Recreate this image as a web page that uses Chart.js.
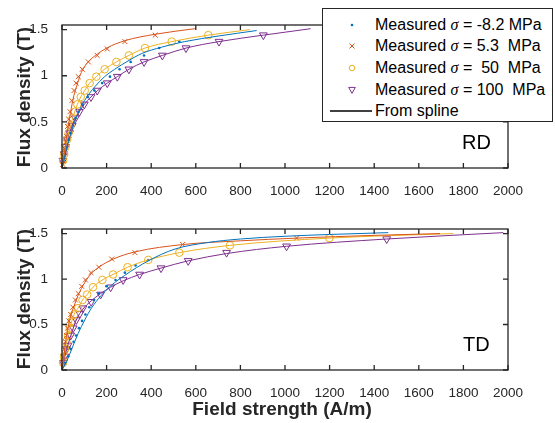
<!DOCTYPE html>
<html><head><meta charset="utf-8">
<script src="https://cdn.jsdelivr.net/npm/chart.js@4"></script>
<style>
body{margin:0;width:555px;height:423px;position:relative;background:#fff;overflow:hidden;font-family:'Liberation Sans',Arial,sans-serif;color:#262626}
canvas{position:absolute;left:0}
#c1{top:0}
#c2{top:200px}
.ytitle{position:absolute;width:200px;left:-76px;height:22px;line-height:22px;text-align:center;font-weight:bold;font-size:19px;transform:rotate(-90deg);white-space:nowrap}
.xtitle{position:absolute;width:300px;left:132px;top:398px;height:22px;line-height:22px;text-align:center;font-weight:bold;font-size:19px;white-space:nowrap}
.tag{position:absolute;font-size:20px;line-height:22px;color:#000;white-space:nowrap}
#legend{position:absolute;left:322px;top:8px;width:231px;height:114px;border:1px solid #262626;background:#fff;box-sizing:border-box}
.lrow{position:absolute;left:52px;height:20px;line-height:20px;font-size:16px;color:#000;white-space:pre}
.lrow i{font-family:'Liberation Serif','DejaVu Serif',serif;font-style:italic}
.lmark{position:absolute}
</style>
</head><body>
<canvas id="c1" width="555" height="200"></canvas>
<canvas id="c2" width="555" height="223"></canvas>
<div class="ytitle" style="top:86px">Flux density (T)</div>
<div class="ytitle" style="top:288px">Flux density (T)</div>
<div class="xtitle">Field strength (A/m)</div>
<div class="tag" style="left:462px;top:131px">RD</div>
<div class="tag" style="left:463px;top:333px">TD</div>
<div id="legend"></div>
<script>
// ---- tick labels ----
const xTicks = [0,200,400,600,800,1000,1200,1400,1600,1800,2000];
const yTicks = [0,0.5,1,1.5];
// ---- series ----
const seriesNames = ['-8.2 MPa','5.3  MPa',' 50  MPa','100  MPa'];
const seriesColors = ['#0072BD','#D95319','#EDB120','#7E2F8E'];
const seriesMarkers = ['dot','crossRot','circle','triangleDown'];
const splineLabel = 'From spline';

// RD measured (H in A/m, B in T)
const rdNeg8H = [6,13,21,29,38,48,60,74,92,115,145,180,215,258,308,368,436,526];
const rdNeg8B = [0.08,0.15,0.23,0.31,0.38,0.46,0.54,0.61,0.69,0.77,0.84,0.92,0.99,1.07,1.15,1.22,1.30,1.37];
const rd5H = [3,6,9,12,15,18,21,25,30,36,44,54,63,73,91,118,158,203,282,418];
const rd5B = [0.04,0.08,0.12,0.17,0.22,0.28,0.34,0.45,0.53,0.61,0.73,0.84,0.92,0.99,1.07,1.15,1.22,1.29,1.37,1.44];
const rd50H = [5,10,16,23,30,38,47,57,69,84,102,124,154,191,244,300,372,492,656];
const rd50B = [0.08,0.15,0.23,0.31,0.38,0.46,0.54,0.61,0.69,0.77,0.84,0.92,0.99,1.07,1.15,1.22,1.30,1.37,1.44];
const rd100H = [4,9,16,24,34,46,60,78,100,130,158,203,248,300,368,450,556,704,903];
const rd100B = [0.08,0.15,0.23,0.31,0.38,0.46,0.54,0.61,0.69,0.77,0.84,0.92,0.99,1.07,1.15,1.22,1.30,1.37,1.44];
// RD splines
const rdNeg8SplH = [0,10,25,49,79,109,147,191,236,296,357,447,550,700,873];
const rdNeg8SplB = [0,0.10,0.25,0.45,0.63,0.76,0.88,0.99,1.07,1.16,1.24,1.31,1.37,1.43,1.49];
const rd5SplH = [0,10,20,34,49,57,69,79,94,117,150,200,282,418,596];
const rd5SplB = [0,0.15,0.33,0.54,0.74,0.82,0.91,0.99,1.07,1.15,1.22,1.30,1.38,1.45,1.51];
const rd50SplH = [0,10,23,38,57,69,84,102,124,154,191,244,300,372,492,656,843];
const rd50SplB = [0,0.15,0.31,0.46,0.61,0.69,0.77,0.84,0.92,0.99,1.07,1.15,1.22,1.30,1.37,1.44,1.50];
const rd100SplH = [0,10,24,46,60,78,100,130,160,203,248,300,368,450,556,704,903,1115];
const rd100SplB = [0,0.13,0.31,0.46,0.54,0.61,0.69,0.77,0.84,0.92,0.99,1.07,1.15,1.22,1.30,1.37,1.44,1.51];

// TD measured
const tdNeg8H = [14,28,40,52,63,76,90,105,122,143,165,199,240,282,330,387];
const tdNeg8B = [0.08,0.15,0.23,0.31,0.38,0.46,0.54,0.61,0.69,0.77,0.84,0.92,0.99,1.07,1.15,1.21];
const td5H = [4,8,12,16,20,25,31,39,49,60,73,88,105,130,165,223,327,541,1052];
const td5B = [0.08,0.15,0.23,0.31,0.38,0.46,0.54,0.61,0.69,0.77,0.84,0.92,0.99,1.07,1.13,1.22,1.29,1.38,1.45];
const td50H = [5,9,14,20,27,35,44,54,72,92,113,139,181,229,294,387,526,753,1199];
const td50B = [0.08,0.15,0.23,0.31,0.38,0.46,0.54,0.61,0.68,0.77,0.83,0.91,0.99,1.05,1.13,1.21,1.29,1.37,1.45];
const td100H = [6,12,20,27,39,50,64,80,94,131,173,218,274,348,444,566,738,1007,1456];
const td100B = [0.08,0.15,0.23,0.27,0.38,0.46,0.55,0.62,0.68,0.75,0.83,0.91,0.99,1.05,1.12,1.20,1.29,1.36,1.44];
// TD splines
const tdNeg8SplH = [0,20,42,72,102,132,176,221,281,387,507,650,800,1000,1200,1463];
const tdNeg8SplB = [0,0.09,0.22,0.40,0.55,0.68,0.82,0.93,1.04,1.20,1.33,1.40,1.44,1.47,1.49,1.51];
const td5SplH = [0,10,19,30,42,55,72,102,131,165,230,330,545,800,1052,1400,1695];
const td5SplB = [0,0.18,0.36,0.50,0.62,0.71,0.82,0.96,1.06,1.13,1.22,1.30,1.38,1.42,1.45,1.48,1.50];
const td50SplH = [0,10,20,35,54,72,92,113,139,181,229,294,387,526,753,1199,1755];
const td50SplB = [0,0.16,0.31,0.46,0.61,0.68,0.77,0.83,0.91,0.99,1.05,1.13,1.21,1.29,1.37,1.45,1.50];
const td100SplH = [0,10,27,45,64,94,131,173,218,274,348,444,566,738,1007,1456,1979];
const td100SplB = [0,0.12,0.28,0.42,0.55,0.67,0.76,0.84,0.91,0.98,1.05,1.12,1.20,1.28,1.36,1.44,1.51];

const axisColor = '#262626';
const zip = (xs, ys) => xs.map((x, i) => ({x, y: ys[i]}));

function markerProps(kind, color) {
  if (kind === 'dot') return {pointStyle:'circle', pointRadius:1.3, pointBackgroundColor:color, pointBorderColor:color, pointBorderWidth:0};
  if (kind === 'crossRot') return {pointStyle:'crossRot', pointRadius:3.5, pointBorderColor:color, pointBorderWidth:1};
  if (kind === 'circle') return {pointStyle:'circle', pointRadius:3.8, pointBackgroundColor:'rgba(0,0,0,0)', pointBorderColor:color, pointBorderWidth:1};
  return {pointStyle:'triangle', rotation:180, pointRadius:4.5, pointBackgroundColor:'rgba(0,0,0,0)', pointBorderColor:color, pointBorderWidth:1};
}

function buildDatasets(measured, splines) {
  const ds = [];
  splines.forEach((s, i) => ds.push({
    label: splineLabel + ' ' + seriesNames[i], data: zip(s[0], s[1]), showLine: true,
    borderColor: seriesColors[i], borderWidth: 1, pointRadius: 0, cubicInterpolationMode: 'monotone', clip: false
  }));
  measured.forEach((m, i) => ds.push(Object.assign({
    label: 'Measured ' + seriesNames[i], data: zip(m[0], m[1]), showLine: false, clip: false
  }, markerProps(seriesMarkers[i], seriesColors[i]))));
  return ds;
}

const framePlugin = {
  id: 'frame',
  afterDraw(chart) {
    const {ctx, chartArea: a} = chart;
    const xs = chart.scales.x, ys = chart.scales.y;
    ctx.save();
    ctx.strokeStyle = axisColor;
    ctx.lineWidth = 1.3;
    ctx.strokeRect(a.left, a.top, a.right - a.left, a.bottom - a.top);
    ctx.beginPath();
    const tl = 5;
    xs.ticks.forEach(t => {
      const p = xs.getPixelForValue(t.value);
      ctx.moveTo(p, a.bottom); ctx.lineTo(p, a.bottom - tl);
      ctx.moveTo(p, a.top); ctx.lineTo(p, a.top + tl);
    });
    ys.ticks.forEach(t => {
      const p = ys.getPixelForValue(t.value);
      ctx.moveTo(a.left, p); ctx.lineTo(a.left + tl, p);
      ctx.moveTo(a.right, p); ctx.lineTo(a.right - tl, p);
    });
    ctx.stroke();
    ctx.restore();
  }
};

function makeChart(id, measured, splines, padTop, xAxisHeight) {
  return new Chart(document.getElementById(id), {
    type: 'scatter',
    data: {datasets: buildDatasets(measured, splines)},
    options: {
      responsive: false, animation: false, devicePixelRatio: 1,
      layout: {padding: {top: padTop, right: 47, bottom: 0, left: 0}},
      plugins: {legend: {display: false}, tooltip: {enabled: false}},
      scales: {
        x: {
          type: 'linear', min: 0, max: 2000,
          afterBuildTicks: s => { s.ticks = xTicks.map(v => ({value: v})); },
          afterFit: s => { s.height = xAxisHeight; },
          grid: {display: false}, border: {display: false},
          ticks: {color: axisColor, font: {family: "'Liberation Sans', Arial, sans-serif", size: 13.5}, padding: 7, maxRotation: 0, autoSkip: false, callback: v => String(v)}
        },
        y: {
          type: 'linear', min: 0, max: 1.55,
          afterBuildTicks: s => { s.ticks = yTicks.map(v => ({value: v})); },
          afterFit: s => { s.width = 62; },
          grid: {display: false}, border: {display: false},
          ticks: {color: axisColor, font: {family: "'Liberation Sans', Arial, sans-serif", size: 13.5}, padding: 6, callback: v => String(v)}
        }
      }
    },
    plugins: [framePlugin]
  });
}

makeChart('c1',
  [[rdNeg8H, rdNeg8B], [rd5H, rd5B], [rd50H, rd50B], [rd100H, rd100B]],
  [[rdNeg8SplH, rdNeg8SplB], [rd5SplH, rd5SplB], [rd50SplH, rd50SplB], [rd100SplH, rd100SplB]],
  25, 32);
makeChart('c2',
  [[tdNeg8H, tdNeg8B], [td5H, td5B], [td50H, td50B], [td100H, td100B]],
  [[tdNeg8SplH, tdNeg8SplB], [td5SplH, td5SplB], [td50SplH, td50SplB], [td100SplH, td100SplB]],
  29, 53);

// ---- legend (HTML) ----
function markerSvg(kind, color) {
  const s = '<svg class="lmark" width="12" height="12" viewBox="-6 -6 12 12" style="left:23px;top:-6px">';
  let body = '';
  if (kind === 'dot') body = `<circle r="1.3" fill="${color}"/>`;
  else if (kind === 'crossRot') body = `<path d="M-2.5,-2.5L2.5,2.5M-2.5,2.5L2.5,-2.5" stroke="${color}" stroke-width="1" fill="none"/>`;
  else if (kind === 'circle') body = `<circle r="2.8" stroke="${color}" stroke-width="1" fill="none"/>`;
  else body = `<path d="M-3.3,-2.6L3.3,-2.6L0,3.3Z" stroke="${color}" stroke-width="1" fill="none"/>`;
  return s + body + '</svg>';
}
const legendEl = document.getElementById('legend');
const rowCenters = [15.5, 37, 59, 80.5, 102];
seriesNames.forEach((name, i) => {
  const row = document.createElement('div');
  row.style.position = 'absolute'; row.style.left = '0'; row.style.top = rowCenters[i] + 'px';
  row.innerHTML = markerSvg(seriesMarkers[i], seriesColors[i]) +
    `<div class="lrow" style="top:-10px">Measured <i>σ</i> = ${name}</div>`;
  legendEl.appendChild(row);
});
const splRow = document.createElement('div');
splRow.style.position = 'absolute'; splRow.style.left = '0'; splRow.style.top = rowCenters[4] + 'px';
splRow.innerHTML = '<svg class="lmark" width="44" height="4" style="left:7px;top:-2px"><line x1="0" y1="2" x2="42" y2="2" stroke="#000" stroke-width="1.5"/></svg>' +
  `<div class="lrow" style="top:-10px">${splineLabel}</div>`;
legendEl.appendChild(splRow);
</script>
</body></html>
